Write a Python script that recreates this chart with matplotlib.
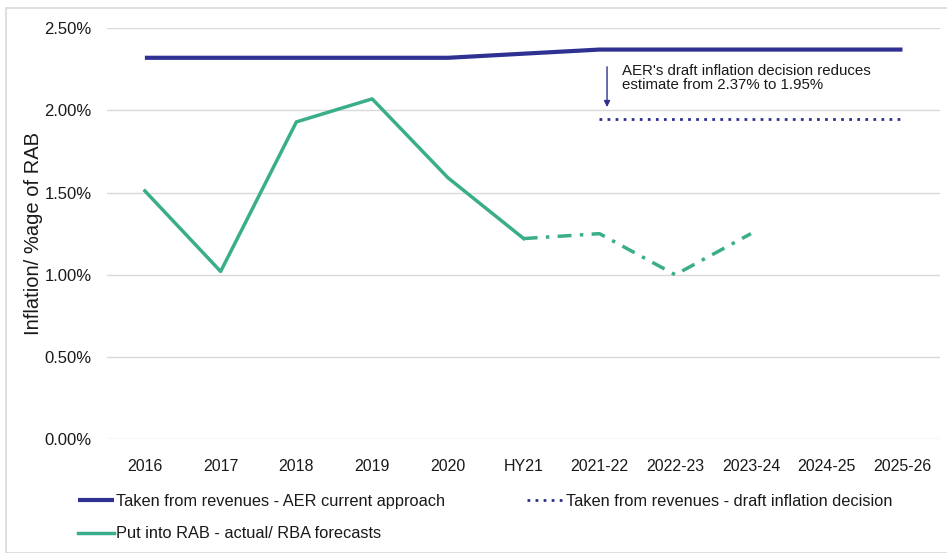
import numpy as np
import matplotlib
matplotlib.use('Agg')
import matplotlib.pyplot as plt
from matplotlib.ticker import FuncFormatter, MultipleLocator
from matplotlib.patches import Rectangle

# ───────────────────────────── data ─────────────────────────────
periods = ['2016', '2017', '2018', '2019', '2020', 'HY21',
           '2021-22', '2022-23', '2023-24', '2024-25', '2025-26']

aer_current  = [2.32, 2.32, 2.32, 2.32, 2.32, 2.345, 2.37, 2.37, 2.37, 2.37, 2.37]
draft_idx    = [6, 7, 8, 9, 10]
draft_vals   = [1.95, 1.95, 1.95, 1.95, 1.95]
rab_act_idx  = [0, 1, 2, 3, 4, 5]
rab_actual   = [1.51, 1.02, 1.93, 2.07, 1.59, 1.22]
rab_fc_idx   = [5, 6, 7, 8]
rab_forecast = [1.22, 1.25, 1.00, 1.25]

note = "AER's draft inflation decision reduces\nestimate from 2.37% to 1.95%"

navy  = '#2E3192'
green = '#3AAE8A'
grid  = '#D9D9D9'
ink   = '#1a1a1a'

plt.rcParams['font.family'] = ['Liberation Sans', 'DejaVu Sans']
plt.rcParams['font.size'] = 11.5

fig = plt.figure(figsize=(9.47, 5.53), dpi=100)
ax = fig.add_axes([0.113, 0.206, 0.880, 0.743])

# light frame round the chart area
fig.patches.append(Rectangle((6 / 947, 0), 1.0, 1 - 8 / 553,
                             transform=fig.transFigure, fill=False,
                             edgecolor='#D9D9D9', lw=1.2))

x = np.arange(len(periods))
ax.plot(x, aer_current, color=navy, lw=3.0, solid_capstyle='butt',
        label='Taken from revenues - AER current approach')
ax.plot(rab_act_idx, rab_actual, color=green, lw=2.5,
        label='Put into RAB - actual/ RBA forecasts')
ax.plot(rab_fc_idx, rab_forecast, color=green, lw=2.5,
        dashes=(4, 2.4, 1, 2.4))
ax.plot(draft_idx, draft_vals, color=navy, lw=2.0,
        dashes=(1, 1.9),
        label='Taken from revenues - draft inflation decision')

ax.annotate('', xy=(6.1, 2.02), xytext=(6.1, 2.265),
            arrowprops=dict(arrowstyle='-|>', color=navy, lw=1.0,
                            mutation_scale=9, shrinkA=0, shrinkB=0))
ax.text(6.3, 2.285, note, ha='left', va='top', fontsize=10.8,
        linespacing=1.05, color=ink)

ax.set_xlim(-0.5, len(periods) - 0.5)
ax.set_ylim(0, 2.5)
ax.yaxis.set_major_locator(MultipleLocator(0.5))
ax.yaxis.set_major_formatter(FuncFormatter(lambda v, _: f'{v:.2f}%'))
ax.set_xticks(x)
ax.set_xticklabels(periods)
ax.tick_params(axis='both', length=0, colors=ink)
ax.tick_params(axis='x', pad=14, labelsize=11.5)
ax.tick_params(axis='y', pad=11, labelsize=12)
ax.grid(axis='y', color=grid, lw=1.0)
ax.set_axisbelow(True)
for s in ax.spines.values():
    s.set_visible(False)
ax.set_ylabel('Inflation/ %age of RAB', fontsize=14.5, labelpad=1, color=ink)

h, l = ax.get_legend_handles_labels()
fig.legend(h, l, ncol=2,
           loc='upper left', bbox_to_anchor=(0.0665, 0.133),
           frameon=False, handlelength=2.2, handletextpad=0.15,
           columnspacing=5.0, labelspacing=1.05, fontsize=11.8,
           labelcolor=ink)

fig.savefig('out.png', dpi=100)
